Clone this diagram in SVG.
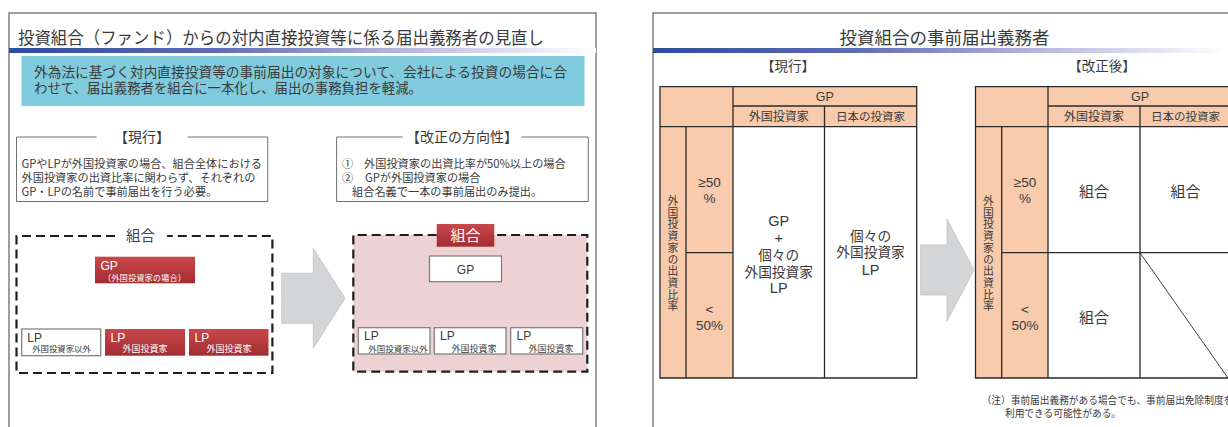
<svg xmlns="http://www.w3.org/2000/svg" width="1228" height="427" viewBox="0 0 1228 427">
<style>
text{font-family:"Noto Sans CJK JP","Noto Sans CJK SC",sans-serif;fill:#3a3a3a}
.lat{font-family:"Liberation Sans","DejaVu Sans",sans-serif}
.w{fill:#fff}
.mid{text-anchor:middle}
.panel{fill:none;stroke:#808080;stroke-width:1.5}
.frame{fill:none;stroke:#707070;stroke-width:1}
.dash{fill:none;stroke:#1e1e1e;stroke-width:2.2;stroke-dasharray:9 5}
.wbox{fill:#fff;stroke:#7a7a7a;stroke-width:1.2}
.red{fill:url(#redg)}
.arrow{fill:#d4d5d7;stroke:#c2c3c5;stroke-width:0.8}
.peach{fill:#f8cbad}
.tl{stroke:#2a2a2a;stroke-width:1.3;fill:none}
.vt{font-size:10.8px;writing-mode:vertical-rl;letter-spacing:0.9px}
</style>
<defs>
<linearGradient id="barg" x1="0" y1="0" x2="1" y2="0">
<stop offset="0" stop-color="#2c4c9c"/>
<stop offset="0.35" stop-color="#5f6bb5"/>
<stop offset="0.65" stop-color="#b0b3dc"/>
<stop offset="1" stop-color="#ffffff"/>
</linearGradient>
<linearGradient id="redg" x1="0" y1="0" x2="0" y2="1">
<stop offset="0" stop-color="#c9484c"/>
<stop offset="1" stop-color="#a22d31"/>
</linearGradient>
</defs>
<rect width="1228" height="427" fill="#fff"/>

<g id="left-panel">
<path class="panel" d="M9,427 V13 H596 V427"/>
<text x="18" y="43.5" font-size="17" textLength="526" lengthAdjust="spacingAndGlyphs">投資組合（ファンド）からの対内直接投資等に係る届出義務者の見直し</text>
<rect x="9" y="48" width="587" height="5" fill="url(#barg)"/>
</g>

<g id="summary">
<rect x="21.5" y="56" width="563" height="50" fill="#80cbdd"/>
<text x="34" y="76.5" font-size="13.7" textLength="533" lengthAdjust="spacingAndGlyphs">外為法に基づく対内直接投資等の事前届出の対象について、会社による投資の場合に合</text>
<text x="34" y="92.5" font-size="13.7" textLength="388" lengthAdjust="spacingAndGlyphs">わせて、届出義務者を組合に一本化し、届出の事務負担を軽減。</text>
</g>

<g id="current-note">
<path class="frame" d="M96.5,137 H16.5 V201.5 H267.7 V137 H187.5"/>
<text class="mid" x="142" y="142.3" font-size="14">【現行】</text>
<text x="21.5" y="167.5" font-size="11.2">GPやLPが外国投資家の場合、組合全体における</text>
<text x="21.5" y="181.5" font-size="11.2">外国投資家の出資比率に関わらず、それぞれの</text>
<text x="21.5" y="196" font-size="11.2">GP・LPの名前で事前届出を行う必要。</text>
</g>

<g id="reform-note">
<path class="frame" d="M402.7,137 H336.6 V201.5 H588.3 V137 H521.4"/>
<text class="mid" x="462" y="142.3" font-size="14">【改正の方向性】</text>
<text x="342" y="167.5" font-size="11.2">①<tspan x="364">外国投資家の出資比率が50%以上の場合</tspan></text>
<text x="342" y="181.5" font-size="11.2">②<tspan x="365">GPが外国投資家の場合</tspan></text>
<text x="352" y="196" font-size="11.2">組合名義で一本の事前届出のみ提出。</text>
</g>

<g id="kumiai-current">
<path class="dash" d="M115,236 H16.5 V373 H272.4 V236 H167"/>
<text class="mid" x="140.5" y="240.5" font-size="14.5" style="fill:#444">組合</text>
</g>
<g id="gp-current">
<rect class="red" x="95" y="256.7" width="100" height="26.6"/>
<text class="w lat" x="100.5" y="269.5" font-size="12">GP</text>
<text class="w" x="103" y="280.8" font-size="8.3">（外国投資家の場合）</text>
</g>
<g id="lp-current-1">
<rect class="wbox" x="21.7" y="329" width="79" height="26.7"/>
<text class="lat" x="27.3" y="341.5" font-size="12">LP</text>
<text class="mid" x="61.5" y="351.6" font-size="8.4">外国投資家以外</text>
</g>
<g id="lp-current-2">
<rect class="red" x="105" y="329" width="80" height="26.7"/>
<text class="w lat" x="110.5" y="341.5" font-size="12">LP</text>
<text class="w mid" x="145" y="351.6" font-size="9">外国投資家</text>
</g>
<g id="lp-current-3">
<rect class="red" x="189" y="329" width="79.5" height="26.7"/>
<text class="w lat" x="194.5" y="341.5" font-size="12">LP</text>
<text class="w mid" x="229" y="351.6" font-size="9">外国投資家</text>
</g>

<g id="kumiai-reform">
<rect x="353.3" y="235" width="234" height="136.7" fill="#edd2d3"/>
<path class="dash" d="M436.7,235 H353.3 V371.7 H587.3 V235 H494.3"/>
<rect class="red" x="436.7" y="224" width="57.6" height="22.7"/>
<text class="w mid" x="465.5" y="241" font-size="15">組合</text>
</g>
<g id="gp-reform">
<rect class="wbox" x="429.5" y="256" width="72" height="25.7"/>
<text class="mid lat" x="465.5" y="273.5" font-size="12">GP</text>
</g>
<g id="lp-reform-1">
<rect class="wbox" x="358.3" y="327.7" width="71.7" height="26.3"/>
<text class="lat" x="364" y="340" font-size="12">LP</text>
<text class="mid" x="398" y="351.5" font-size="8.5">外国投資家以外</text>
</g>
<g id="lp-reform-2">
<rect class="wbox" x="434.3" y="327.7" width="71.7" height="26.3"/>
<text class="lat" x="440" y="340" font-size="12">LP</text>
<text class="mid" x="474" y="351.5" font-size="9">外国投資家</text>
</g>
<g id="lp-reform-3">
<rect class="wbox" x="510.7" y="327.7" width="72" height="26.3"/>
<text class="lat" x="516.5" y="340" font-size="12">LP</text>
<text class="mid" x="551" y="351.5" font-size="9">外国投資家</text>
</g>

<g id="right-panel">
<path class="panel" d="M653,427 V13 H1230"/>
<text class="mid" x="944.5" y="43.5" font-size="17.5">投資組合の事前届出義務者</text>
<rect x="653" y="48" width="575" height="5" fill="url(#barg)"/>
<text class="mid" x="788" y="70.5" font-size="13.5">【現行】</text>
<text class="mid" x="1102" y="70.5" font-size="13.5">【改正後】</text>
</g>

<g id="table-current">
<rect class="peach" x="660" y="86.7" width="256.7" height="40"/>
<rect class="peach" x="660" y="126.7" width="73" height="251.3"/>
<rect x="733" y="126.7" width="183.7" height="251.3" fill="#fff"/>
<path class="tl" d="M660,86.7 H916.7 V378 H660 Z M733,106 H916.7 M660,126.7 H916.7 M733,86.7 V378 M824.5,106 V378 M686,126.7 V378 M686,252.7 H733"/>
<text class="mid lat" x="824.8" y="101" font-size="12.5">GP</text>
<text class="mid" x="778.7" y="121" font-size="12">外国投資家</text>
<text class="mid" x="870.6" y="121" font-size="11.5">日本の投資家</text>
<text class="vt" x="673" y="195.5">外国投資家の出資比率</text>
<text class="mid lat" font-size="13.5"><tspan x="709.5" y="187">≥50</tspan><tspan x="709.5" y="203">%</tspan></text>
<text class="mid lat" font-size="13.5"><tspan x="709.5" y="313.5">&lt;</tspan><tspan x="709.5" y="329.5">50%</tspan></text>
<text class="mid lat" x="778.7" y="225.7" font-size="14.5">GP</text>
<text class="mid lat" x="778.7" y="243" font-size="14.5">+</text>
<text class="mid" font-size="13.7"><tspan x="778.7" y="259.5">個々の</tspan><tspan x="778.7" y="277">外国投資家</tspan></text>
<text class="mid lat" x="778.7" y="293.3" font-size="14.5">LP</text>
<text class="mid" font-size="13.7"><tspan x="870.6" y="240.5">個々の</tspan><tspan x="870.6" y="257">外国投資家</tspan></text>
<text class="mid lat" x="870.6" y="275" font-size="14.5">LP</text>
</g>

<g id="table-reform">
<rect class="peach" x="975.5" y="86.7" width="260" height="40"/>
<rect class="peach" x="975.5" y="126.7" width="72.5" height="251.3"/>
<rect x="1048" y="126.7" width="187" height="251.3" fill="#fff"/>
<path class="tl" d="M1235,86.7 H975.5 V378 H1235 M1048,106 H1235 M975.5,126.7 H1235 M1048,86.7 V378 M1140,106 V378 M1001.7,126.7 V378 M1001.7,252.7 H1235"/>
<path d="M1140,252.7 L1228,378" stroke="#2a2a2a" stroke-width="0.9" fill="none"/>
<text class="mid lat" x="1140" y="101" font-size="12.5">GP</text>
<text class="mid" x="1094" y="121" font-size="12">外国投資家</text>
<text class="mid" x="1185.5" y="121" font-size="11.5">日本の投資家</text>
<text class="vt" x="988.3" y="195.5">外国投資家の出資比率</text>
<text class="mid lat" font-size="13.5"><tspan x="1025" y="187">≥50</tspan><tspan x="1025" y="203">%</tspan></text>
<text class="mid lat" font-size="13.5"><tspan x="1025" y="313.5">&lt;</tspan><tspan x="1025" y="329.5">50%</tspan></text>
<text class="mid" x="1094" y="196.5" font-size="15">組合</text>
<text class="mid" x="1185.5" y="196.5" font-size="15">組合</text>
<text class="mid" x="1094" y="322.5" font-size="15">組合</text>
</g>

<g id="note">
<text x="981.7" y="403.5" font-size="9.7">（注）事前届出義務がある場合でも、事前届出免除制度を</text>
<text x="1005" y="416.5" font-size="9.7">利用できる可能性がある。</text>
</g>

<g id="connectors">
<polygon class="arrow" points="281.7,273.3 313.3,273.3 313.3,248.3 345,298.3 313.3,348.3 313.3,323.3 281.7,323.3"/>
<polygon class="arrow" points="920.7,245 947,245 947,219 974,270 947,321 947,295 920.7,295"/>
</g>
</svg>
